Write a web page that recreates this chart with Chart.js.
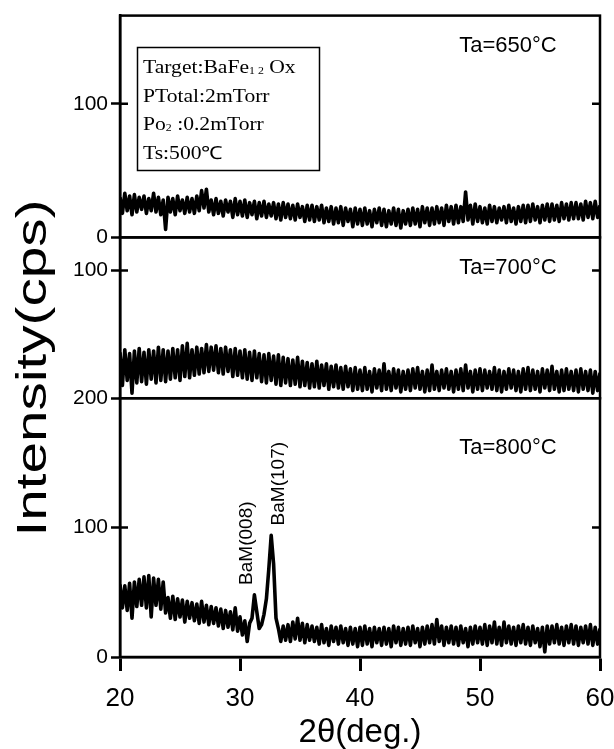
<!DOCTYPE html>
<html>
<head>
<meta charset="utf-8">
<script src="https://cdn.jsdelivr.net/npm/chart.js@4.4.1/dist/chart.umd.min.js"></script>
<style>
  html, body { margin: 0; padding: 0; background: #fff; }
  #wrap { position: relative; width: 614px; height: 749px; }
</style>
</head>
<body>
<div id="wrap"><canvas id="xrd" width="614" height="749"></canvas></div>
<script>
// 2theta grid (deg.)
const twoTheta = [
  20.0, 20.2, 20.4, 20.6, 20.8, 21.0, 21.2, 21.4, 21.6, 21.8,
  22.0, 22.2, 22.4, 22.6, 22.8, 23.0, 23.2, 23.4, 23.6, 23.8,
  24.0, 24.2, 24.4, 24.6, 24.8, 25.0, 25.2, 25.4, 25.6, 25.8,
  26.0, 26.2, 26.4, 26.6, 26.8, 27.0, 27.2, 27.4, 27.6, 27.8,
  28.0, 28.2, 28.4, 28.6, 28.8, 29.0, 29.2, 29.4, 29.6, 29.8,
  30.0, 30.2, 30.4, 30.6, 30.8, 31.0, 31.2, 31.4, 31.6, 31.8,
  32.0, 32.2, 32.4, 32.6, 32.8, 33.0, 33.2, 33.4, 33.6, 33.8,
  34.0, 34.2, 34.4, 34.6, 34.8, 35.0, 35.2, 35.4, 35.6, 35.8,
  36.0, 36.2, 36.4, 36.6, 36.8, 37.0, 37.2, 37.4, 37.6, 37.8,
  38.0, 38.2, 38.4, 38.6, 38.8, 39.0, 39.2, 39.4, 39.6, 39.8,
  40.0, 40.2, 40.4, 40.6, 40.8, 41.0, 41.2, 41.4, 41.6, 41.8,
  42.0, 42.2, 42.4, 42.6, 42.8, 43.0, 43.2, 43.4, 43.6, 43.8,
  44.0, 44.2, 44.4, 44.6, 44.8, 45.0, 45.2, 45.4, 45.6, 45.8,
  46.0, 46.2, 46.4, 46.6, 46.8, 47.0, 47.2, 47.4, 47.6, 47.8,
  48.0, 48.2, 48.4, 48.6, 48.8, 49.0, 49.2, 49.4, 49.6, 49.8,
  50.0, 50.2, 50.4, 50.6, 50.8, 51.0, 51.2, 51.4, 51.6, 51.8,
  52.0, 52.2, 52.4, 52.6, 52.8, 53.0, 53.2, 53.4, 53.6, 53.8,
  54.0, 54.2, 54.4, 54.6, 54.8, 55.0, 55.2, 55.4, 55.6, 55.8,
  56.0, 56.2, 56.4, 56.6, 56.8, 57.0, 57.2, 57.4, 57.6, 57.8,
  58.0, 58.2, 58.4, 58.6, 58.8, 59.0, 59.2, 59.4, 59.6, 59.8,
  60.0,
];

// intensity (cps), Ta = 650 C
const intensity650 = [
  30, 18, 33, 20, 31, 17, 32, 19, 30, 21,
  31, 18, 29, 20, 33, 19, 30, 17, 28, 6,
  30, 19, 29, 17, 31, 20, 28, 18, 30, 19,
  29, 18, 31, 20, 35, 22, 36, 19, 28, 17,
  29, 18, 27, 16, 28, 19, 27, 15, 29, 17,
  27, 16, 28, 15, 26, 17, 27, 14, 26, 16,
  27, 15, 25, 16, 26, 14, 25, 13, 26, 15,
  25, 14, 24, 13, 25, 15, 23, 12, 24, 13,
  24, 12, 23, 13, 24, 11, 22, 12, 23, 10,
  22, 11, 23, 9, 22, 12, 21, 8, 22, 10,
  21, 9, 22, 10, 20, 8, 21, 11, 22, 9,
  21, 8, 20, 10, 22, 9, 21, 7, 20, 10,
  21, 9, 22, 10, 21, 8, 23, 11, 22, 9,
  22, 10, 23, 11, 22, 9, 24, 12, 23, 10,
  24, 11, 23, 12, 34, 13, 24, 10, 25, 12,
  23, 11, 22, 10, 24, 12, 23, 11, 22, 13,
  23, 11, 24, 12, 22, 10, 23, 12, 24, 11,
  24, 12, 25, 13, 23, 11, 24, 13, 25, 12,
  25, 13, 24, 12, 26, 14, 25, 13, 26, 14,
  26, 14, 25, 13, 27, 15, 26, 14, 27, 15,
  24,
];

// intensity (cps), Ta = 700 C
const intensity700 = [
  36, 10, 38, 14, 35, 4, 37, 12, 39, 13,
  36, 11, 38, 15, 37, 12, 40, 14, 38, 13,
  37, 15, 39, 16, 38, 14, 41, 17, 43, 16,
  38, 18, 40, 19, 39, 20, 42, 21, 40, 22,
  41, 20, 39, 19, 40, 21, 38, 17, 39, 18,
  37, 16, 38, 15, 36, 14, 37, 16, 35, 13,
  34, 12, 35, 14, 33, 11, 34, 10, 32, 12,
  31, 10, 30, 11, 32, 9, 29, 10, 28, 8,
  27, 9, 29, 8, 26, 10, 27, 7, 25, 9,
  26, 8, 24, 7, 25, 9, 23, 6, 24, 7,
  22, 6, 24, 7, 21, 5, 23, 8, 22, 6,
  27, 7, 21, 6, 23, 8, 22, 5, 21, 7,
  22, 6, 23, 8, 24, 7, 21, 5, 22, 6,
  26, 7, 21, 6, 22, 8, 23, 7, 21, 5,
  22, 7, 23, 6, 26, 8, 21, 5, 22, 7,
  23, 6, 22, 8, 21, 7, 24, 6, 22, 5,
  21, 7, 23, 8, 22, 6, 21, 5, 23, 7,
  24, 6, 22, 7, 21, 5, 23, 8, 22, 6,
  25, 7, 21, 5, 22, 6, 23, 7, 21, 6,
  22, 5, 23, 7, 21, 6, 22, 4, 21, 6,
  20,
];

// intensity (cps), Ta = 800 C
const intensity800 = [
  56, 38, 55, 36, 57, 30, 58, 39, 60, 40,
  62, 38, 63, 31, 61, 40, 60, 37, 58, 34,
  46, 30, 47, 29, 45, 31, 44, 27, 43, 30,
  42, 28, 41, 26, 43, 27, 40, 25, 39, 26,
  38, 24, 37, 22, 36, 23, 35, 21, 38, 20,
  31, 17, 28, 12, 26, 30, 48, 35, 22, 25,
  33, 45, 68, 94, 72, 30, 22, 12, 24, 13,
  25, 12, 27, 14, 30, 13, 26, 11, 25, 13,
  24, 12, 23, 10, 25, 11, 22, 9, 24, 12,
  23, 10, 24, 11, 22, 9, 23, 10, 22, 8,
  23, 9, 24, 10, 22, 8, 23, 11, 22, 9,
  23, 10, 22, 8, 24, 11, 23, 9, 22, 10,
  23, 9, 24, 11, 22, 8, 23, 10, 24, 11,
  25, 10, 29, 12, 24, 9, 23, 11, 24, 10,
  23, 9, 24, 11, 22, 8, 23, 10, 24, 11,
  23, 10, 25, 9, 24, 11, 27, 10, 23, 9,
  27, 11, 24, 10, 23, 9, 24, 11, 25, 10,
  23, 9, 24, 11, 22, 8, 23, 4, 24, 10,
  24, 11, 25, 10, 23, 9, 24, 11, 25, 10,
  24, 9, 23, 11, 24, 10, 25, 9, 23, 10,
  22,
];

const xTicks = [20, 30, 40, 50, 60];
const ticks650 = [0, 100];
const ticks700 = [100];
const ticks800 = [0, 100, 200];

const panelLabels = ["Ta=650°C", "Ta=700°C", "Ta=800°C"];
const peakNames = ["BaM(008)", "BaM(107)"];
const peakAngles = [31.2, 32.6];
const peakHeights = [48, 94];

// sample conditions box, [text, subscript?]
const infoLines = [
  [["Target:BaFe", false], ["1 2", true], [" Ox", false]],
  [["PTotal:2mTorr", false]],
  [["Po", false], ["2", true], [" :0.2mTorr", false]],
  [["Ts:500℃", false]],
];

const SANS = "'Liberation Sans', Arial, sans-serif";
const SERIF = "'Liberation Serif', 'Times New Roman', serif";

function toPoints(ys) {
  return twoTheta.map((x, i) => ({ x: x, y: ys[i] }));
}

function yAxis(ticks, max, weight, stackWeight) {
  return {
    type: "linear",
    position: "left",
    stack: "xrd",
    stackWeight: stackWeight,
    weight: weight,
    min: 0,
    max: max,
    afterBuildTicks: (axis) => {
      axis.ticks = ticks.map((v) => ({ value: v }));
    },
    afterFit: (axis) => {
      axis.width = 120;
    },
    ticks: {
      color: "#000",
      padding: 3,
      font: { family: SANS, size: 21 },
    },
    grid: {
      drawOnChartArea: false,
      tickLength: 9,
      tickWidth: 2.5,
      tickColor: "#000",
    },
    border: { color: "#000", width: 2.5 },
  };
}

const framePlugin = {
  id: "frames",
  afterDatasetsDraw(chart) {
    const { ctx, chartArea } = chart;
    ctx.save();
    ctx.strokeStyle = "#000";
    ctx.lineWidth = 2.5;
    ["y650", "y700", "y800"].forEach((id) => {
      const s = chart.scales[id];
      ctx.strokeRect(chartArea.left, s.top, chartArea.right - chartArea.left, s.bottom - s.top);
      s.ticks.forEach((t) => {
        if (t.value <= s.min || t.value >= s.max) return;
        const y = s.getPixelForValue(t.value);
        ctx.beginPath();
        ctx.moveTo(chartArea.left, y);
        ctx.lineTo(chartArea.left + 8, y);
        ctx.moveTo(chartArea.right, y);
        ctx.lineTo(chartArea.right - 8, y);
        ctx.stroke();
      });
    });
    ctx.restore();
  },
};

function drawRich(ctx, parts, x, y, size) {
  let cx = x;
  parts.forEach(([text, sub]) => {
    const fs = sub ? size * 0.55 : size;
    ctx.font = fs + "px " + SERIF;
    ctx.fillText(text, cx, sub ? y + 1 : y);
    cx += ctx.measureText(text).width;
  });
}

const textPlugin = {
  id: "texts",
  afterDraw(chart) {
    const { ctx } = chart;
    const sx = chart.scales.x;
    ctx.save();
    ctx.fillStyle = "#000";

    // y title
    ctx.save();
    ctx.translate(46, 368);
    ctx.rotate(-Math.PI / 2);
    ctx.scale(1.35, 1);
    ctx.font = "42px " + SANS;
    ctx.textAlign = "center";
    ctx.textBaseline = "alphabetic";
    ctx.fillText("Intensity(cps)", 0, 0);
    ctx.restore();

    // panel labels
    const offsets = [30, 31, 50];
    ["y650", "y700", "y800"].forEach((id, i) => {
      const s = chart.scales[id];
      ctx.font = "22px " + SANS;
      ctx.textAlign = "center";
      ctx.textBaseline = "middle";
      ctx.fillText(panelLabels[i], 508, s.top + offsets[i]);
    });

    // peak labels
    const s800 = chart.scales.y800;
    const shifts = [-8, 8];
    peakNames.forEach((name, i) => {
      const px = sx.getPixelForValue(peakAngles[i]) + shifts[i];
      const py = s800.getPixelForValue(peakHeights[i]) - 10;
      ctx.save();
      ctx.translate(px, py);
      ctx.rotate(-Math.PI / 2);
      ctx.font = "19px " + SANS;
      ctx.textAlign = "left";
      ctx.textBaseline = "middle";
      ctx.fillText(name, 0, 0);
      ctx.restore();
    });

    // conditions box
    ctx.lineWidth = 1.5;
    ctx.strokeRect(137.5, 47.5, 182, 123);
    ctx.textAlign = "left";
    ctx.textBaseline = "alphabetic";
    infoLines.forEach((parts, i) => {
      ctx.save();
      ctx.translate(143, 73 + i * 28.5);
      ctx.scale(1.2, 1);
      drawRich(ctx, parts, 0, 0, 18);
      ctx.restore();
    });
    ctx.restore();
  },
};

new Chart(document.getElementById("xrd"), {
  type: "line",
  data: {
    datasets: [
      { data: toPoints(intensity650), yAxisID: "y650" },
      { data: toPoints(intensity700), yAxisID: "y700" },
      { data: toPoints(intensity800), yAxisID: "y800" },
    ],
  },
  options: {
    responsive: false,
    animation: false,
    devicePixelRatio: 1,
    layout: { padding: { top: 15, right: 14, left: 0, bottom: 0 } },
    elements: {
      line: {
        borderColor: "#000",
        borderWidth: 3.6,
        borderJoinStyle: "round",
        tension: 0,
      },
      point: { radius: 0 },
    },
    plugins: {
      legend: { display: false },
      tooltip: { enabled: false },
    },
    scales: {
      x: {
        type: "linear",
        min: 20,
        max: 60,
        afterBuildTicks: (axis) => {
          axis.ticks = xTicks.map((v) => ({ value: v }));
        },
        afterFit: (axis) => {
          axis.height = 92;
          axis.paddingLeft = 0;
          axis.paddingRight = 0;
        },
        ticks: {
          color: "#000",
          padding: 12,
          maxRotation: 0,
          font: { family: SANS, size: 26 },
        },
        grid: {
          drawOnChartArea: false,
          tickLength: 14,
          tickWidth: 3,
          tickColor: "#000",
        },
        border: { color: "#000", width: 2.5 },
        title: {
          display: true,
          text: "2θ(deg.)",
          color: "#000",
          padding: { top: 0, bottom: 0 },
          font: { family: SANS, size: 33, lineHeight: 1 },
        },
      },
      y650: yAxis(ticks650, 166, 3, 222),
      y700: yAxis(ticks700, 126, 2, 161),
      y800: yAxis(ticks800, 200, 1, 259),
    },
  },
  plugins: [framePlugin, textPlugin],
});
</script>
</body>
</html>
